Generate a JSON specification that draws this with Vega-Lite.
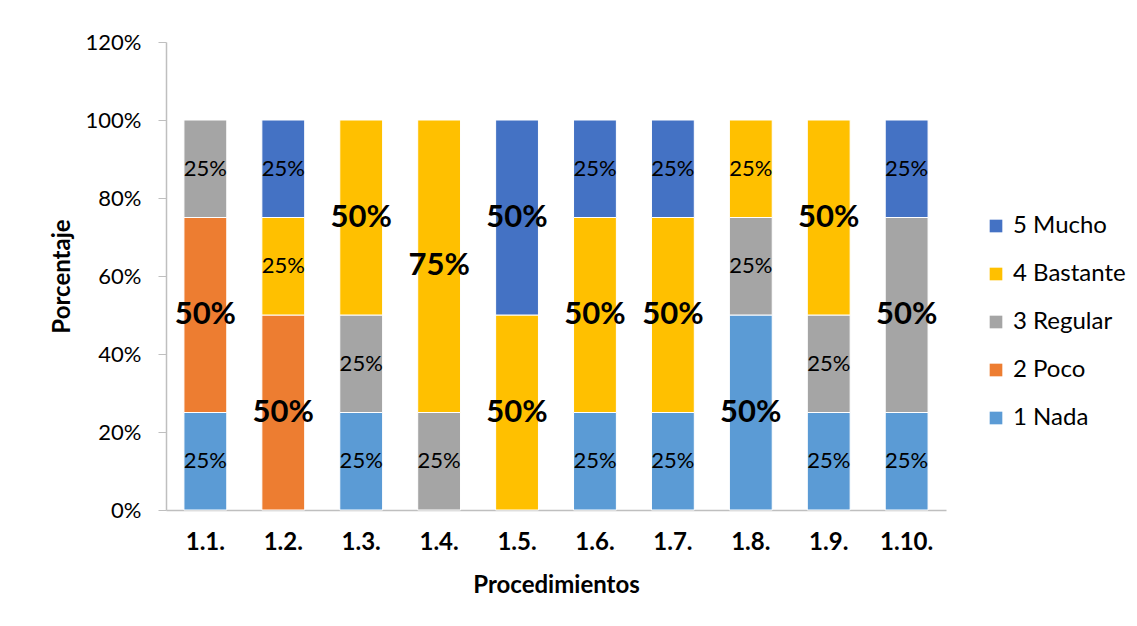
{
  "$schema": "https://vega.github.io/schema/vega-lite/v6.json",
  "autosize": {"type": "none"},
  "width": 780,
  "height": 468,
  "padding": {"left": 166, "top": 42, "right": 191, "bottom": 116},
  "background": "white",
  "config": {
    "font": "Lato",
    "view": {"stroke": null},
    "axis": {"grid": false, "domainColor": "#BFBFBF", "tickColor": "#BFBFBF", "labelColor": "black", "titleColor": "black"}
  },
  "data": {
    "values": [
      {"p": "1.1.", "c": "1 Nada", "v": 0.25},
      {"p": "1.1.", "c": "2 Poco", "v": 0.5},
      {"p": "1.1.", "c": "3 Regular", "v": 0.25},
      {"p": "1.2.", "c": "2 Poco", "v": 0.5},
      {"p": "1.2.", "c": "4 Bastante", "v": 0.25},
      {"p": "1.2.", "c": "5 Mucho", "v": 0.25},
      {"p": "1.3.", "c": "1 Nada", "v": 0.25},
      {"p": "1.3.", "c": "3 Regular", "v": 0.25},
      {"p": "1.3.", "c": "4 Bastante", "v": 0.5},
      {"p": "1.4.", "c": "3 Regular", "v": 0.25},
      {"p": "1.4.", "c": "4 Bastante", "v": 0.75},
      {"p": "1.5.", "c": "4 Bastante", "v": 0.5},
      {"p": "1.5.", "c": "5 Mucho", "v": 0.5},
      {"p": "1.6.", "c": "1 Nada", "v": 0.25},
      {"p": "1.6.", "c": "4 Bastante", "v": 0.5},
      {"p": "1.6.", "c": "5 Mucho", "v": 0.25},
      {"p": "1.7.", "c": "1 Nada", "v": 0.25},
      {"p": "1.7.", "c": "4 Bastante", "v": 0.5},
      {"p": "1.7.", "c": "5 Mucho", "v": 0.25},
      {"p": "1.8.", "c": "1 Nada", "v": 0.5},
      {"p": "1.8.", "c": "3 Regular", "v": 0.25},
      {"p": "1.8.", "c": "4 Bastante", "v": 0.25},
      {"p": "1.9.", "c": "1 Nada", "v": 0.25},
      {"p": "1.9.", "c": "3 Regular", "v": 0.25},
      {"p": "1.9.", "c": "4 Bastante", "v": 0.5},
      {"p": "1.10.", "c": "1 Nada", "v": 0.25},
      {"p": "1.10.", "c": "3 Regular", "v": 0.5},
      {"p": "1.10.", "c": "5 Mucho", "v": 0.25}
    ]
  },
  "transform": [
    {"stack": "v", "groupby": ["p"], "sort": [{"field": "c", "order": "ascending"}], "as": ["y0", "y1"]},
    {"calculate": "(datum.y0 + datum.y1) / 2", "as": "mid"}
  ],
  "encoding": {
    "x": {
      "field": "p", "type": "nominal", "sort": null,
      "scale": {"paddingInner": 0.45, "paddingOuter": 0.23},
      "axis": {
        "title": "Procedimientos", "titleFontSize": 24, "titleFontWeight": "bold",
        "titleX": 390, "titleY": 75, "titleBaseline": "middle",
        "labelFontSize": 24, "labelFontWeight": "bold", "labelAngle": 0,
        "labelPadding": 20, "ticks": false, "domainWidth": 1.5
      }
    }
  },
  "layer": [
    {
      "mark": {"type": "bar", "stroke": "white", "strokeWidth": 1},
      "encoding": {
        "y": {
          "field": "y0", "type": "quantitative",
          "scale": {"domain": [0, 1.2], "nice": false},
          "axis": {
            "title": "Porcentaje", "titleFontSize": 24, "titleFontWeight": "bold",
            "titleX": -104, "titleY": 234, "titleAngle": -90, "titleBaseline": "middle", "titleAlign": "center",
            "values": [0, 0.2, 0.4, 0.6, 0.8, 1, 1.2], "format": ".0%",
            "labelFontSize": 22, "labelPadding": 17, "tickSize": 8, "domainWidth": 1.5
          }
        },
        "y2": {"field": "y1"},
        "color": {
          "field": "c", "type": "nominal",
          "scale": {
            "domain": ["5 Mucho", "4 Bastante", "3 Regular", "2 Poco", "1 Nada"],
            "range": ["#4472C4", "#FFC000", "#A5A5A5", "#ED7D31", "#5B9BD5"]
          },
          "legend": {
            "title": null, "orient": "none", "legendX": 818, "legendY": 172,
            "symbolType": "square", "symbolSize": 160, "symbolStrokeWidth": 0,
            "labelFontSize": 24, "labelColor": "black", "rowPadding": 24, "labelOffset": 5
          }
        }
      }
    },
    {
      "transform": [{"filter": "datum.v < 0.3"}],
      "mark": {"type": "text", "fontSize": 22, "color": "black", "baseline": "middle"},
      "encoding": {
        "y": {"field": "mid", "type": "quantitative"},
        "text": {"field": "v", "type": "quantitative", "format": ".0%"}
      }
    },
    {
      "transform": [{"filter": "datum.v > 0.3"}],
      "mark": {"type": "text", "fontSize": 31, "fontWeight": "bold", "color": "black", "baseline": "middle"},
      "encoding": {
        "y": {"field": "mid", "type": "quantitative"},
        "text": {"field": "v", "type": "quantitative", "format": ".0%"}
      }
    }
  ]
}
